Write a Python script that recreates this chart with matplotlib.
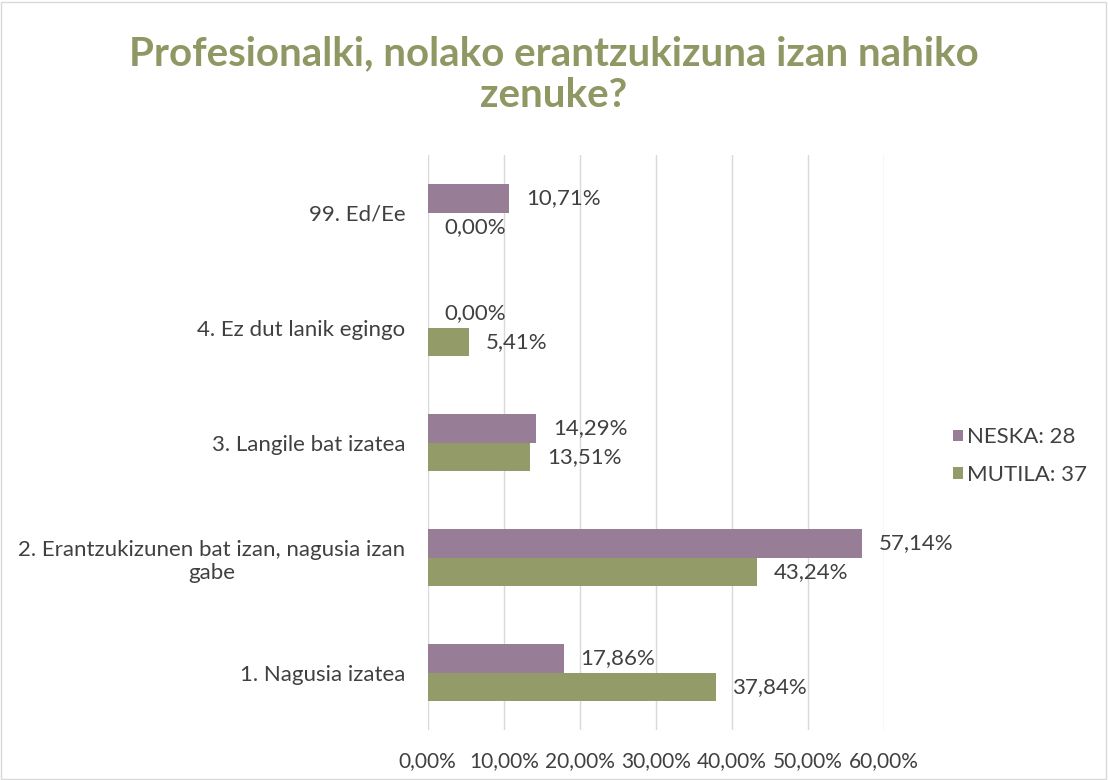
import matplotlib.pyplot as plt
import numpy as np
from matplotlib.patches import Rectangle

plt.rcParams['font.family'] = ['Lato', 'DejaVu Sans']

categories = ["1. Nagusia izatea",
              "2. Erantzukizunen bat izan, nagusia izan\ngabe",
              "3. Langile bat izatea",
              "4. Ez dut lanik egingo",
              "99. Ed/Ee"]
neska = [17.86, 57.14, 14.29, 0.00, 10.71]
mutila = [37.84, 43.24, 13.51, 5.41, 0.00]
series_names = ["NESKA: 28", "MUTILA: 37"]
xticks = [0, 10, 20, 30, 40, 50, 60]

c_neska = "#977D96"
c_mutila = "#939B69"
txt = "#404040"

fig = plt.figure(figsize=(11.08, 7.8), dpi=100)
ax = fig.add_axes([0.386, 0.064, 0.412, 0.737])

y = np.arange(len(categories))
h = 0.25
b1 = ax.barh(y + h / 2, neska, h, color=c_neska, label=series_names[0], zorder=3)
b2 = ax.barh(y - h / 2, mutila, h, color=c_mutila, label=series_names[1], zorder=3)

for bars, vals in ((b1, neska), (b2, mutila)):
    for bar, v in zip(bars, vals):
        ax.annotate(f"{v:.2f}%".replace(".", ","),
                    (v, bar.get_y() + bar.get_height() / 2),
                    xytext=(12, 0), textcoords="offset points",
                    ha="left", va="center", fontsize=16, color=txt)

ax.set_xlim(0, 60)
ax.set_ylim(-0.5, len(categories) - 0.5)
ax.set_xticks(xticks)
ax.set_xticklabels([f"{t:.2f}%".replace(".", ",") for t in xticks],
                   fontsize=15, color=txt)
ax.set_yticks(y)
ax.set_yticklabels(categories, fontsize=16, color=txt, multialignment="center")
ax.tick_params(axis="both", length=0)
ax.tick_params(axis="x", pad=15)
ax.tick_params(axis="y", pad=16)
ax.grid(axis="x", color="#D9D9D9", linewidth=1, zorder=0)
for s in ax.spines.values():
    s.set_visible(False)

leg = fig.legend(handles=[b1, b2], loc="center left", bbox_to_anchor=(0.860, 0.415),
                 frameon=False, fontsize=16, handlelength=0.45, handleheight=0.45,
                 handletextpad=0.2, labelspacing=0.8, borderpad=0, borderaxespad=0)
for t in leg.get_texts():
    t.set_color(txt)

fig.text(0.5, 0.904, "Profesionalki, nolako erantzukizuna izan nahiko\nzenuke?",
         ha="center", va="center", fontsize=29, fontweight="bold",
         color="#8F9763", linespacing=1.15)

fig.patches.append(Rectangle((0.001, 0.001), 0.997, 0.997, transform=fig.transFigure,
                             fill=False, edgecolor="#D9D9D9", linewidth=1))

fig.savefig("out.png", dpi=100)
